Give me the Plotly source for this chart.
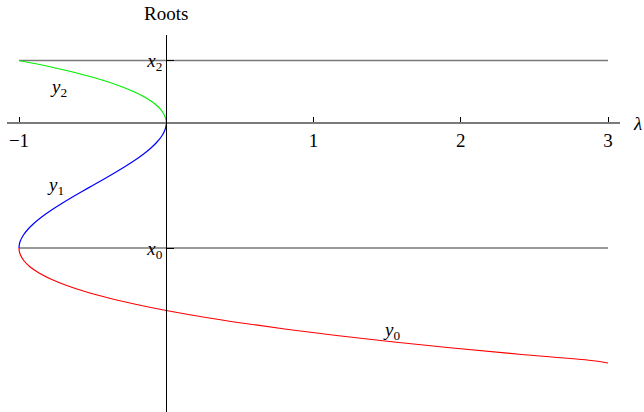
import plotly.graph_objects as go

# roots of the cubic vs lambda
lam_y2 = [0.0, -0.001, -0.003, -0.008, -0.032, -0.074, -0.136, -0.219, -0.324, -0.453, -0.608, -0.790, -1.0]
root_y2 = [0.0, 0.02, 0.03, 0.05, 0.10, 0.15, 0.20, 0.25, 0.30, 0.35, 0.40, 0.45, 0.50]

lam_y1 = [0.0, -0.001, -0.003, -0.007, -0.028, -0.061, -0.104, -0.156, -0.216, -0.282, -0.352, -0.425,
          -0.500, -0.575, -0.648, -0.718, -0.784, -0.844, -0.896, -0.939, -0.972, -0.993, -0.998, -1.0]
root_y1 = [0.0, -0.02, -0.03, -0.05, -0.10, -0.15, -0.20, -0.25, -0.30, -0.35, -0.40, -0.45,
           -0.50, -0.55, -0.60, -0.65, -0.70, -0.75, -0.80, -0.85, -0.90, -0.95, -0.975, -1.0]

lam_y0 = [-1.0, -0.998, -0.992, -0.968, -0.926, -0.864, -0.781, -0.676, -0.547, -0.392, -0.210, 0.0,
          0.240, 0.512, 0.817, 1.156, 1.531, 1.944, 2.396, 2.888, 3.0]
root_y0 = [-1.0, -1.025, -1.05, -1.10, -1.15, -1.20, -1.25, -1.30, -1.35, -1.40, -1.45, -1.50,
           -1.55, -1.60, -1.65, -1.70, -1.75, -1.80, -1.85, -1.90, -1.92]

ref_names = ["<i>x</i><sub>2</sub>", "<i>x</i><sub>0</sub>"]
ref_vals = [0.5, -1.0]
lam_span = [-1, 3]

curve_labels = ["<i>y</i><sub>2</sub>", "<i>y</i><sub>1</sub>", "<i>y</i><sub>0</sub>"]
curve_label_lam = [-0.73, -0.75, 1.53]
curve_label_root = [0.28, -0.50, -1.66]

font = "Liberation Serif, Times New Roman, serif"
fs = 19
xr = [-1.0815, 3.0815]
yr = [-2.312, 0.704]

fig = go.Figure()

for v in ref_vals:
    fig.add_trace(go.Scatter(x=lam_span, y=[v, v], mode="lines",
                             line=dict(color="#7a7a7a", width=1.5), hoverinfo="skip"))

fig.add_trace(go.Scatter(x=lam_y2, y=root_y2, mode="lines", line=dict(color="#00f000", width=1.2, shape="spline")))
fig.add_trace(go.Scatter(x=lam_y1, y=root_y1, mode="lines", line=dict(color="#0000ff", width=1.2, shape="spline")))
fig.add_trace(go.Scatter(x=lam_y0, y=root_y0, mode="lines", line=dict(color="#ff0000", width=1.2, shape="spline")))

for t, lx, ly in zip(curve_labels, curve_label_lam, curve_label_root):
    fig.add_annotation(x=lx, y=ly, text=t, showarrow=False, font=dict(family=font, size=fs, color="black"))

fig.add_annotation(x=0, y=1, xref="x", yref="paper", text="Roots", showarrow=False,
                   yanchor="middle", yshift=22, font=dict(family=font, size=fs, color="black"))
fig.add_annotation(x=1, y=0, xref="paper", yref="y", text="<i>λ</i>", showarrow=False,
                   xanchor="left", xshift=11, font=dict(family=font, size=fs, color="black"))

fig.update_layout(
    width=644, height=412,
    margin=dict(l=7, r=24, t=35, b=0),
    paper_bgcolor="white", plot_bgcolor="white",
    showlegend=False,
    xaxis=dict(range=xr, showgrid=False, zeroline=False, showline=True, linecolor="#7a7a7a", linewidth=1.5,
               anchor="free", position=(0 - yr[0]) / (yr[1] - yr[0]),
               tickvals=[-1, 1, 2, 3], ticktext=["\u22121", "1", "2", "3"],
               ticks="inside", ticklen=5, tickcolor="black", tickwidth=1,
               tickfont=dict(family=font, size=fs, color="black")),
    yaxis=dict(range=yr, showgrid=False, zeroline=False, showline=True, linecolor="black", linewidth=1,
               anchor="free", position=(0 - xr[0]) / (xr[1] - xr[0]),
               tickvals=ref_vals, ticktext=ref_names,
               ticks="inside", ticklen=7, tickcolor="black", tickwidth=1,
               tickfont=dict(family=font, size=fs, color="black")),
)

fig.write_html("out.html", config={"displayModeBar": False},
               post_script="document.body.style.margin='0';")
